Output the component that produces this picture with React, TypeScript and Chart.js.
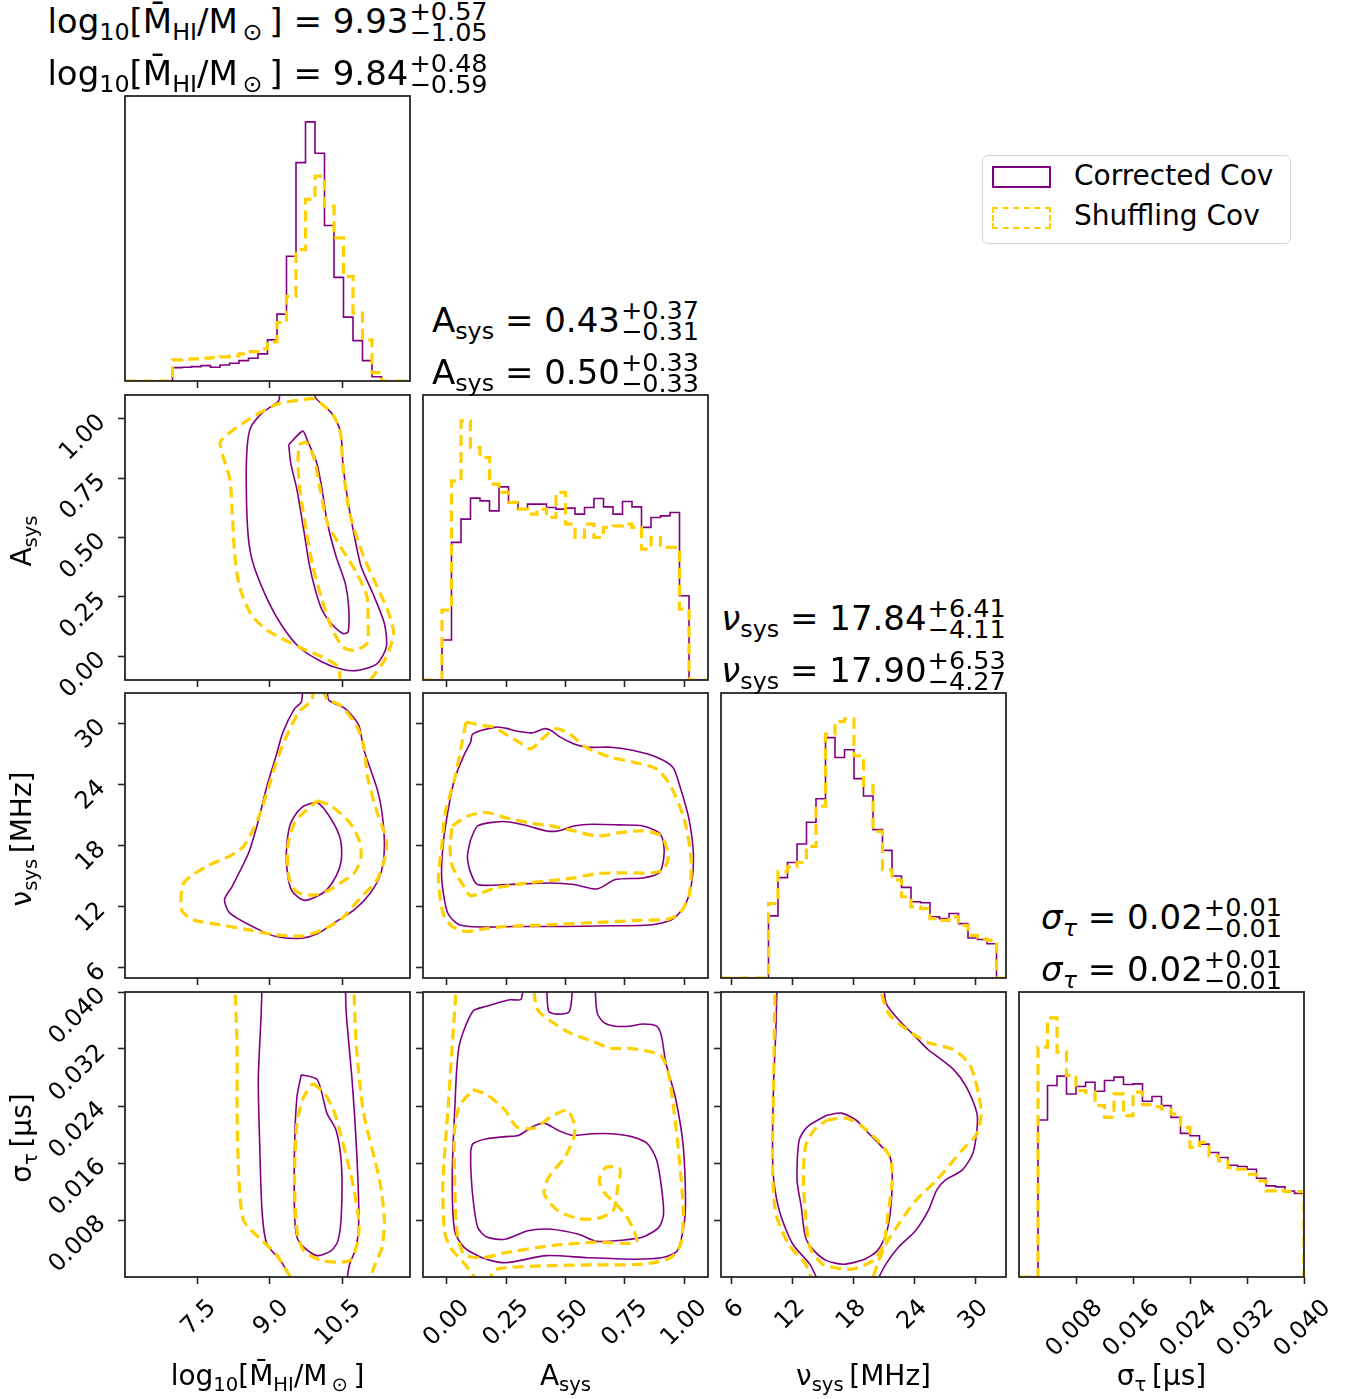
import React, { useEffect, useRef } from "react";
import { Chart, registerables } from "chart.js";

Chart.register(...registerables);

type Pt = [number, number];
type Line = Pt[];

// ---------- axis limits ----------
const LOGM_RANGE: [number, number] = [6.0, 11.9];
const ASYS_RANGE: [number, number] = [-0.1, 1.1];
const NUSYS_RANGE: [number, number] = [5.0, 33.0];
const SIGMA_RANGE: [number, number] = [0.0, 0.04];

// ---------- ticks ----------
const LOGM_TICKS = [7.5, 9.0, 10.5];
const LOGM_TICK_LABELS = ["7.5", "9.0", "10.5"];
const ASYS_TICKS = [0.0, 0.25, 0.5, 0.75, 1.0];
const ASYS_TICK_LABELS = ["0.00", "0.25", "0.50", "0.75", "1.00"];
const NUSYS_TICKS = [6, 12, 18, 24, 30];
const NUSYS_TICK_LABELS = ["6", "12", "18", "24", "30"];
const SIGMA_TICKS = [0.008, 0.016, 0.024, 0.032, 0.04];
const SIGMA_TICK_LABELS = ["0.008", "0.016", "0.024", "0.032", "0.040"];

// ---------- marginal histograms (30 bins over each axis range) ----------
const LOGM_HIST_CORRECTED = [0, 0, 0, 0, 0, 13.3, 13.7, 14.3, 15.3, 13.7, 16, 17.7, 20.3, 22.7, 27, 41, 66.7, 124.3, 217.7, 258.3, 227, 155, 103.3, 63.7, 40.3, 20.3, 4.3, 0, 0, 0];
const LOGM_HIST_SHUFFLING = [0, 0, 0, 0, 0, 21, 21.7, 22, 22.7, 23.3, 24, 25, 27, 29.3, 32, 39, 58.3, 84.3, 131, 181, 204.3, 174.3, 142.7, 104.3, 67.7, 41, 8.3, 0, 0, 0];
const ASYS_HIST_CORRECTED = [0, 0, 40, 137.7, 161, 182, 179.3, 169.3, 193.3, 177.7, 171, 176, 176, 172.7, 171, 172, 166, 172.7, 181.7, 173.3, 166, 178.7, 173.3, 152.7, 162.7, 164.3, 167.7, 84.3, 0, 0];
const ASYS_HIST_SHUFFLING = [0, 0, 70, 199.3, 259.3, 232.7, 222.7, 196, 187.7, 177.7, 171, 166, 171, 162.7, 187.7, 156, 142.7, 156, 142.7, 152.7, 154.3, 156, 152.7, 131, 142.7, 132.7, 132.7, 71, 0, 0];
const NUSYS_HIST_CORRECTED = [0, 0, 0, 0, 0, 61.7, 99.7, 114.7, 133, 154.7, 178, 238.7, 219, 226.7, 198, 180.7, 147.3, 126.7, 101.3, 90, 75.7, 74.7, 60.7, 59, 64, 54, 39.7, 38.3, 34, 0];
const NUSYS_HIST_SHUFFLING = [0, 0, 0, 0, 0, 74, 105.7, 110.7, 114.7, 130.7, 170.7, 242.3, 254.7, 257.3, 220.7, 191.3, 145.7, 107.3, 97.3, 80.7, 70.7, 69, 59, 57.3, 60.7, 52.3, 42.3, 39, 37.3, 0];
const SIGMA_HIST_CORRECTED = [0, 0, 156.3, 190.7, 200, 182.3, 189.7, 194, 185, 195.7, 199, 191.7, 192.3, 175, 179.7, 170.7, 159, 143, 140.7, 132.3, 124, 119, 111.3, 110, 107.3, 98.3, 90.7, 89.7, 85.7, 83.3];
const SIGMA_HIST_SHUFFLING = [0, 0, 229, 258, 224, 200.7, 185.7, 184, 170.7, 159, 182.3, 160.7, 184, 171.7, 169.7, 167.3, 162.3, 149, 129, 134, 120.7, 115.7, 109, 107.3, 102.3, 95.7, 85.7, 86.3, 85, 85];

// ---------- 68% / 95% credible contours ----------
const LOGM_ASYS_CORRECTED: Line[] = [
  [[9.20, 1.12], [9.18, 1.075], [8.84, 1.025], [8.60, 0.962], [8.53, 0.884], [8.51, 0.744], [8.54, 0.532], [8.63, 0.406], [8.89, 0.265], [9.22, 0.138], [9.60, 0.039], [10.08, -0.024], [10.51, -0.056], [10.84, -0.059], [11.22, -0.031], [11.41, 0.039], [11.37, 0.138], [11.13, 0.265], [10.89, 0.377], [10.75, 0.504], [10.60, 0.673], [10.51, 0.814], [10.46, 0.948], [10.27, 1.025], [9.94, 1.089], [9.94, 1.12]],
  [[9.39, 0.891], [9.68, 0.948], [9.78, 0.906], [9.97, 0.814], [10.08, 0.701], [10.19, 0.561], [10.37, 0.42], [10.56, 0.307], [10.63, 0.208], [10.62, 0.103], [10.51, 0.096], [10.27, 0.138], [10.08, 0.194], [9.94, 0.279], [9.81, 0.392], [9.70, 0.532], [9.56, 0.701], [9.43, 0.814], [9.39, 0.891]],
];
const LOGM_ASYS_SHUFFLING: Line[] = [
  [[10.46, -0.11], [10.41, -0.045], [10.08, -0.003], [9.60, 0.039], [8.94, 0.11], [8.60, 0.18], [8.37, 0.293], [8.27, 0.434], [8.22, 0.603], [8.17, 0.744], [8.03, 0.842], [7.98, 0.906], [8.56, 0.997], [9.13, 1.06], [9.60, 1.078], [9.94, 1.082], [10.32, 1.011], [10.46, 0.941], [10.51, 0.8], [10.65, 0.603], [10.94, 0.42], [11.22, 0.293], [11.46, 0.18], [11.56, 0.096], [11.41, -0.003], [11.18, -0.073], [11.03, -0.11]],
  [[9.60, 0.891], [9.75, 0.901], [9.91, 0.835], [10.03, 0.715], [10.19, 0.561], [10.46, 0.462], [10.80, 0.349], [11.01, 0.251], [11.03, 0.152], [11.01, 0.054], [10.75, 0.025], [10.51, 0.039], [10.27, 0.124], [10.08, 0.237], [9.89, 0.377], [9.75, 0.532], [9.62, 0.701], [9.58, 0.814], [9.60, 0.891]],
];

const LOGM_NUSYS_CORRECTED: Line[] = [
  [[9.68, 33.5], [9.65, 32.12], [9.51, 31.46], [9.27, 29.16], [9.13, 26.85], [8.94, 23.89], [8.75, 20.27], [8.56, 17.3], [8.22, 14.01], [8.06, 12.7], [8.17, 11.38], [8.75, 9.8], [9.13, 9.07], [9.65, 8.91], [9.98, 9.34], [10.32, 10.39], [10.75, 11.71], [11.08, 13.35], [11.30, 15.33], [11.37, 17.96], [11.32, 21.26], [11.22, 23.56], [10.94, 27.51], [10.84, 29.82], [10.56, 31.46], [10.22, 32.29], [10.19, 33.5]],
  [[9.70, 21.91], [9.98, 22.24], [10.27, 20.6], [10.46, 18.62], [10.48, 16.65], [10.37, 15.0], [10.18, 13.68], [9.98, 13.03], [9.70, 12.63], [9.46, 13.52], [9.37, 15.0], [9.34, 17.3], [9.41, 19.94], [9.56, 21.26], [9.70, 21.91]],
];
const LOGM_NUSYS_SHUFFLING: Line[] = [
  [[9.89, 33.5], [9.87, 32.29], [9.60, 31.13], [9.32, 28.5], [9.13, 26.2], [8.94, 23.23], [8.75, 20.6], [8.46, 17.96], [8.17, 16.98], [7.70, 15.99], [7.22, 14.34], [7.17, 11.71], [7.41, 10.72], [7.98, 10.23], [8.56, 9.73], [9.13, 9.24], [9.70, 9.14], [10.08, 9.73], [10.46, 10.72], [10.84, 12.7], [11.22, 14.67], [11.39, 16.98], [11.41, 18.62], [11.22, 21.26], [11.03, 24.55], [10.94, 27.84], [10.79, 29.82], [10.46, 31.79], [10.19, 32.38], [10.08, 33.5]],
  [[9.98, 22.41], [10.27, 21.91], [10.65, 20.27], [10.84, 18.62], [10.89, 16.98], [10.75, 15.33], [10.46, 14.34], [10.18, 13.52], [9.98, 13.19], [9.70, 13.19], [9.51, 13.68], [9.39, 15.0], [9.37, 17.96], [9.51, 20.27], [9.70, 21.26], [9.98, 22.41]],
];

const ASYS_NUSYS_CORRECTED: Line[] = [
  [[0.101, 28.17], [0.11, 28.99], [0.207, 29.65], [0.246, 29.55], [0.304, 29.22], [0.362, 29.09], [0.41, 29.49], [0.439, 29.32], [0.478, 28.66], [0.536, 28.0], [0.594, 27.67], [0.691, 27.67], [0.787, 27.35], [0.884, 26.69], [0.952, 25.7], [0.981, 23.89], [1.02, 20.6], [1.039, 16.97], [1.029, 14.01], [1.0, 12.04], [0.952, 10.79], [0.865, 10.23], [0.691, 10.13], [0.478, 10.06], [0.284, 10.06], [0.149, 10.0], [0.052, 10.23], [0.004, 11.38], [-0.021, 14.67], [-0.016, 17.96], [0.004, 21.26], [0.033, 24.55], [0.072, 26.85], [0.101, 28.17]],
  [[0.101, 18.62], [0.13, 19.94], [0.207, 20.33], [0.265, 20.33], [0.342, 19.94], [0.42, 19.45], [0.468, 19.45], [0.536, 19.94], [0.613, 20.11], [0.729, 20.04], [0.826, 19.94], [0.894, 19.28], [0.913, 18.29], [0.913, 16.65], [0.894, 15.33], [0.826, 14.83], [0.71, 14.67], [0.633, 13.75], [0.536, 14.18], [0.439, 14.34], [0.246, 14.18], [0.13, 14.18], [0.101, 15.33], [0.087, 16.97], [0.101, 18.62]],
];
const ASYS_NUSYS_SHUFFLING: Line[] = [
  [[0.081, 30.15], [0.149, 29.82], [0.197, 29.65], [0.246, 28.99], [0.304, 28.17], [0.352, 27.51], [0.41, 28.66], [0.458, 29.49], [0.517, 28.99], [0.575, 27.84], [0.613, 27.35], [0.691, 26.69], [0.787, 26.19], [0.884, 25.54], [0.942, 23.89], [1.0, 20.6], [1.029, 16.65], [1.02, 13.03], [0.981, 11.38], [0.933, 10.79], [0.807, 10.66], [0.633, 10.46], [0.439, 10.23], [0.246, 10.06], [0.149, 9.8], [0.081, 9.57], [0.023, 10.06], [-0.016, 11.38], [-0.035, 14.67], [-0.021, 17.96], [-0.006, 21.26], [0.033, 24.55], [0.062, 27.84], [0.081, 30.15]],
  [[0.023, 19.94], [0.091, 20.93], [0.168, 21.26], [0.246, 20.76], [0.342, 20.27], [0.439, 19.94], [0.536, 19.45], [0.633, 18.95], [0.729, 19.28], [0.826, 19.45], [0.904, 18.95], [0.933, 16.97], [0.913, 15.66], [0.865, 15.33], [0.749, 15.33], [0.633, 15.26], [0.536, 14.83], [0.342, 14.34], [0.207, 13.85], [0.101, 13.09], [0.072, 14.01], [0.023, 15.99], [0.014, 17.96], [0.023, 19.94]],
];

const LOGM_SIGMA_CORRECTED: Line[] = [
  [[8.84, 0.042], [8.82, 0.0371], [8.76, 0.0277], [8.79, 0.0183], [8.84, 0.0089], [8.94, 0.0046], [9.22, 0.0023], [9.51, -0.001]],
  [[10.56, 0.042], [10.58, 0.0371], [10.70, 0.0277], [10.79, 0.0183], [10.84, 0.0089], [10.79, 0.0042], [10.65, 0.0018], [10.58, -0.001]],
  [[9.65, 0.0284], [9.98, 0.0277], [10.18, 0.023], [10.37, 0.0206], [10.48, 0.0159], [10.48, 0.0089], [10.41, 0.0051], [10.27, 0.0037], [9.98, 0.003], [9.70, 0.0042], [9.56, 0.0056], [9.51, 0.0089], [9.51, 0.0183], [9.56, 0.0253], [9.65, 0.0284]],
];
const LOGM_SIGMA_SHUFFLING: Line[] = [
  [[8.27, 0.042], [8.32, 0.0324], [8.32, 0.023], [8.36, 0.0136], [8.46, 0.0079], [8.84, 0.0051], [9.13, 0.0032], [9.51, -0.001]],
  [[10.73, 0.042], [10.79, 0.0324], [10.94, 0.023], [11.27, 0.0136], [11.37, 0.0079], [11.32, 0.0042], [11.18, 0.0018], [11.03, -0.001]],
  [[9.89, 0.0272], [10.13, 0.0258], [10.32, 0.0234], [10.46, 0.0201], [10.70, 0.0136], [10.84, 0.0079], [10.82, 0.0051], [10.65, 0.0023], [10.08, 0.0023], [9.70, 0.0037], [9.56, 0.0065], [9.51, 0.0136], [9.56, 0.0216], [9.70, 0.0253], [9.89, 0.0272]],
];

const ASYS_SIGMA_CORRECTED: Line[] = [
  [[0.323, 0.042], [0.313, 0.039], [0.265, 0.0389], [0.168, 0.038], [0.11, 0.0373], [0.052, 0.0324], [0.033, 0.023], [0.023, 0.0136], [0.033, 0.0065], [0.072, 0.0042], [0.149, 0.0027], [0.246, 0.002], [0.42, 0.003], [0.594, 0.0027], [0.787, 0.0025], [0.904, 0.0027], [0.971, 0.0037], [1.004, 0.0089], [0.996, 0.0183], [0.962, 0.0253], [0.923, 0.03], [0.904, 0.0338], [0.884, 0.0352], [0.826, 0.0355], [0.768, 0.0352], [0.71, 0.0352], [0.662, 0.0357], [0.633, 0.0371], [0.623, 0.042]],
  [[0.42, 0.042], [0.429, 0.0373], [0.468, 0.0369], [0.517, 0.0373], [0.532, 0.042]],
  [[0.101, 0.0178], [0.11, 0.0187], [0.168, 0.0194], [0.246, 0.0197], [0.304, 0.0199], [0.362, 0.0211], [0.41, 0.0216], [0.468, 0.0206], [0.526, 0.0199], [0.613, 0.0201], [0.691, 0.0201], [0.778, 0.0197], [0.845, 0.0187], [0.884, 0.0164], [0.904, 0.0126], [0.913, 0.0089], [0.894, 0.007], [0.826, 0.0056], [0.749, 0.0052], [0.633, 0.005], [0.555, 0.006], [0.439, 0.0067], [0.342, 0.0065], [0.246, 0.0053], [0.168, 0.0056], [0.13, 0.007], [0.11, 0.0112], [0.101, 0.0154], [0.101, 0.0178]],
];
const ASYS_SIGMA_SHUFFLING: Line[] = [
  [[0.043, 0.042], [0.023, 0.0324], [0.004, 0.023], [-0.016, 0.0136], [-0.01, 0.0065], [0.014, 0.0042], [0.081, 0.0016], [0.139, -0.001]],
  [[0.178, -0.001], [0.197, 0.0009], [0.246, 0.0013], [0.439, 0.0016], [0.633, 0.0017], [0.826, 0.0018], [0.942, 0.0027], [0.985, 0.0046], [0.996, 0.0089], [0.981, 0.0159], [0.958, 0.023], [0.933, 0.0286], [0.904, 0.031], [0.845, 0.0317], [0.768, 0.0321], [0.691, 0.0321], [0.613, 0.0331], [0.517, 0.0343], [0.439, 0.0359], [0.381, 0.0376], [0.362, 0.042]],
  [[0.11, 0.0263], [0.168, 0.0256], [0.246, 0.0234], [0.294, 0.0211], [0.371, 0.0209], [0.439, 0.0225], [0.507, 0.0234], [0.536, 0.0216], [0.536, 0.0197], [0.497, 0.0168], [0.429, 0.014], [0.41, 0.0117], [0.468, 0.0093], [0.555, 0.0082], [0.633, 0.0082], [0.7, 0.0093], [0.72, 0.0126], [0.729, 0.0152], [0.671, 0.0154], [0.642, 0.0136], [0.662, 0.0119], [0.72, 0.01], [0.768, 0.0079], [0.797, 0.0049], [0.633, 0.0049], [0.439, 0.0044], [0.246, 0.0034], [0.149, 0.0027], [0.072, 0.0032], [0.043, 0.0065], [0.033, 0.0136], [0.033, 0.0206], [0.052, 0.0239], [0.11, 0.0263]],
];

const NUSYS_SIGMA_CORRECTED: Line[] = [
  [[10.52, 0.042], [10.39, 0.0347], [10.18, 0.0277], [10.06, 0.0183], [10.18, 0.0136], [10.81, 0.0089], [12.06, 0.0046], [13.72, 0.0018], [14.68, -0.001]],
  [[20.99, 0.042], [21.2, 0.0385], [22.45, 0.0361], [23.7, 0.0343], [25.36, 0.0319], [26.19, 0.031], [27.86, 0.0291], [29.1, 0.0267], [30.14, 0.023], [30.14, 0.0206], [29.73, 0.0173], [28.69, 0.015], [27.03, 0.0136], [26.19, 0.0122], [25.36, 0.0093], [24.11, 0.0065], [22.45, 0.0042], [21.2, 0.0018], [20.16, -0.001]],
  [[15.38, 0.0227], [16.84, 0.023], [18.29, 0.022], [19.54, 0.0201], [20.79, 0.0183], [21.62, 0.0168], [21.83, 0.0136], [21.62, 0.0089], [21.2, 0.006], [20.37, 0.0037], [19.12, 0.0025], [17.05, 0.0018], [15.38, 0.0023], [14.13, 0.0037], [13.3, 0.0056], [12.89, 0.0098], [12.47, 0.0136], [12.68, 0.0192], [13.51, 0.0211], [15.38, 0.0227]],
];
const NUSYS_SIGMA_SHUFFLING: Line[] = [
  [[10.31, 0.042], [10.18, 0.0277], [10.06, 0.0159], [10.39, 0.0089], [11.64, 0.0046], [13.3, 0.0018], [14.13, -0.001]],
  [[20.37, 0.042], [21.41, 0.0371], [23.28, 0.0347], [25.36, 0.0329], [27.86, 0.0319], [29.52, 0.0296], [30.56, 0.0234], [30.14, 0.0201], [28.69, 0.0178], [26.19, 0.0136], [24.11, 0.0107], [22.45, 0.0074], [21.2, 0.0046], [20.37, 0.0018], [19.75, -0.001]],
  [[15.38, 0.022], [17.25, 0.0223], [18.71, 0.0213], [20.37, 0.0192], [21.62, 0.0168], [21.83, 0.0136], [21.41, 0.0089], [20.99, 0.0046], [19.95, 0.0023], [17.88, 0.0011], [16.21, 0.0013], [14.97, 0.0018], [13.72, 0.0042], [13.3, 0.0089], [13.1, 0.0136], [13.3, 0.0183], [14.13, 0.0206], [15.38, 0.022]],
];

// ---------- posterior summaries: [median, +err, -err] ----------
const LOGM_SUMMARY = [[9.93, 0.57, 1.05], [9.84, 0.48, 0.59]];
const ASYS_SUMMARY = [[0.43, 0.37, 0.31], [0.5, 0.33, 0.33]];
const NUSYS_SUMMARY = [[17.84, 6.41, 4.11], [17.9, 6.53, 4.27]];
const SIGMA_SUMMARY = [[0.02, 0.01, 0.01], [0.02, 0.01, 0.01]];

const SERIES_NAMES = ["Corrected Cov", "Shuffling Cov"];

// ---------- styling ----------
const FONT = "'DejaVu Sans', 'Noto Sans', sans-serif";
const PURPLE = "#800080";
const GOLD = "#ffd000";
const FRAME = "#262626";
const PANEL = 285;
const COL_X = [125, 423, 721, 1019];
const ROW_Y = [96, 395, 693, 992];

type AxisSpec = { range: [number, number]; ticks: number[]; labels: string[]; shift: number };
const AX_LOGM: AxisSpec = { range: LOGM_RANGE, ticks: LOGM_TICKS, labels: LOGM_TICK_LABELS, shift: 15 };
const AX_ASYS: AxisSpec = { range: ASYS_RANGE, ticks: ASYS_TICKS, labels: ASYS_TICK_LABELS, shift: 19 };
const AX_NUSYS: AxisSpec = { range: NUSYS_RANGE, ticks: NUSYS_TICKS, labels: NUSYS_TICK_LABELS, shift: 9 };
const AX_SIGMA: AxisSpec = { range: SIGMA_RANGE, ticks: SIGMA_TICKS, labels: SIGMA_TICK_LABELS, shift: 23 };

// Draws the full box around each panel's plotting area.
const framePlugin = {
  id: "frame",
  afterDatasetsDraw(chart: any) {
    const { ctx, chartArea: a } = chart;
    ctx.save();
    ctx.strokeStyle = FRAME;
    ctx.lineWidth = 1.8;
    ctx.strokeRect(a.left, a.top, a.right - a.left, a.bottom - a.top);
    ctx.restore();
  },
};

// Outline of a step histogram: one point at the left edge of every bin.
function histPoints(counts: number[], range: [number, number]) {
  const n = counts.length;
  const w = (range[1] - range[0]) / n;
  const pts = [{ x: range[0], y: 0 }];
  counts.forEach((c, i) => pts.push({ x: range[0] + i * w, y: c }));
  pts.push({ x: range[1], y: counts[n - 1] });
  pts.push({ x: range[1], y: 0 });
  return pts;
}

function lineStyle(shuffled: boolean) {
  return shuffled
    ? { borderColor: GOLD, borderWidth: 3.2, borderDash: [11, 6] }
    : { borderColor: PURPLE, borderWidth: 1.6, borderDash: [] };
}

function histDatasets(corrected: number[], shuffled: number[], range: [number, number]) {
  return [
    { data: histPoints(shuffled, range), ...lineStyle(true), showLine: true, stepped: "before", pointRadius: 0, fill: false },
    { data: histPoints(corrected, range), ...lineStyle(false), showLine: true, stepped: "before", pointRadius: 0, fill: false },
  ];
}

function contourDatasets(corrected: Line[], shuffled: Line[]) {
  const mk = (l: Line, s: boolean) => ({
    data: l.map(([x, y]) => ({ x, y })),
    ...lineStyle(s),
    showLine: true,
    pointRadius: 0,
    tension: 0.25,
    fill: false,
  });
  return [...shuffled.map((l) => mk(l, true)), ...corrected.map((l) => mk(l, false))];
}

type PanelSpec = {
  row: number;
  col: number;
  x: AxisSpec;
  y: AxisSpec | null;
  datasets: any[];
  yMax?: number;
};

function ChartPanel({ spec }: { spec: PanelSpec }) {
  const ref = useRef<HTMLCanvasElement>(null);
  const { row, col } = spec;
  const padL = col === 0 ? 125 : 16;
  const padR = col === 3 ? 50 : 8;
  const padT = 10;
  const padB = row === 3 ? 122 : col === 0 ? 48 : 16;
  const W = padL + PANEL + padR;
  const H = padT + PANEL + padB;

  useEffect(() => {
    const tickFont = { family: FONT, size: 24 };
    const grid = { display: true, drawOnChartArea: false, drawTicks: true, tickLength: 7, tickWidth: 1.6, tickColor: FRAME };
    const xs = spec.x;
    const ys = spec.y;
    const xScale: any = {
      type: "linear",
      position: "bottom",
      min: xs.range[0],
      max: xs.range[1],
      afterBuildTicks: (s: any) => {
        s.ticks = xs.ticks.map((v) => ({ value: v }));
      },
      afterFit: (s: any) => {
        s.height = padB;
        s.paddingLeft = 0;
        s.paddingRight = 0;
        s.paddingTop = 0;
        s.paddingBottom = 0;
      },
      ticks: {
        display: row === 3,
        autoSkip: false,
        minRotation: 45,
        maxRotation: 45,
        padding: 10,
        labelOffset: xs.shift,
        color: "#000",
        font: tickFont,
        callback: (_v: any, i: number) => xs.labels[i],
      },
      grid,
      border: { display: false },
    };
    const yScale: any = ys
      ? {
          type: "linear",
          position: "left",
          min: ys.range[0],
          max: ys.range[1],
          afterBuildTicks: (s: any) => {
            s.ticks = ys.ticks.map((v) => ({ value: v }));
          },
          afterFit: (s: any) => {
            s.width = padL;
            s.paddingLeft = 0;
            s.paddingRight = 0;
            s.paddingTop = 0;
            s.paddingBottom = 0;
          },
          ticks: {
            display: col === 0,
            autoSkip: false,
            minRotation: 45,
            maxRotation: 45,
            padding: 16,
            color: "#000",
            font: tickFont,
            callback: (_v: any, i: number) => ys.labels[i],
          },
          grid,
          border: { display: false },
        }
      : {
          type: "linear",
          position: "left",
          min: 0,
          max: spec.yMax,
          afterFit: (s: any) => {
            s.width = padL;
            s.paddingTop = 0;
            s.paddingBottom = 0;
          },
          ticks: { display: false },
          grid: { display: false },
          border: { display: false },
        };

    const chart = new Chart(ref.current as HTMLCanvasElement, {
      type: "scatter",
      data: { datasets: spec.datasets },
      options: {
        responsive: false,
        animation: false,
        devicePixelRatio: 1,
        events: [],
        layout: { autoPadding: false, padding: { left: 0, top: padT, right: padR, bottom: 0 } },
        plugins: { legend: { display: false }, tooltip: { enabled: false } },
        scales: { x: xScale, y: yScale },
      } as any,
      plugins: [framePlugin],
    });
    return () => chart.destroy();
  }, []);

  return (
    <canvas
      ref={ref}
      width={W}
      height={H}
      style={{ position: "absolute", left: COL_X[col] - padL, top: ROW_Y[row] - padT, width: W, height: H }}
    />
  );
}

const histMax = (a: number[], b: number[]) => 1.1 * Math.max(...a, ...b);

const PANELS: PanelSpec[] = [
  { row: 0, col: 0, x: AX_LOGM, y: null, datasets: histDatasets(LOGM_HIST_CORRECTED, LOGM_HIST_SHUFFLING, LOGM_RANGE), yMax: histMax(LOGM_HIST_CORRECTED, LOGM_HIST_SHUFFLING) },
  { row: 1, col: 0, x: AX_LOGM, y: AX_ASYS, datasets: contourDatasets(LOGM_ASYS_CORRECTED, LOGM_ASYS_SHUFFLING) },
  { row: 1, col: 1, x: AX_ASYS, y: null, datasets: histDatasets(ASYS_HIST_CORRECTED, ASYS_HIST_SHUFFLING, ASYS_RANGE), yMax: histMax(ASYS_HIST_CORRECTED, ASYS_HIST_SHUFFLING) },
  { row: 2, col: 0, x: AX_LOGM, y: AX_NUSYS, datasets: contourDatasets(LOGM_NUSYS_CORRECTED, LOGM_NUSYS_SHUFFLING) },
  { row: 2, col: 1, x: AX_ASYS, y: AX_NUSYS, datasets: contourDatasets(ASYS_NUSYS_CORRECTED, ASYS_NUSYS_SHUFFLING) },
  { row: 2, col: 2, x: AX_NUSYS, y: null, datasets: histDatasets(NUSYS_HIST_CORRECTED, NUSYS_HIST_SHUFFLING, NUSYS_RANGE), yMax: histMax(NUSYS_HIST_CORRECTED, NUSYS_HIST_SHUFFLING) },
  { row: 3, col: 0, x: AX_LOGM, y: AX_SIGMA, datasets: contourDatasets(LOGM_SIGMA_CORRECTED, LOGM_SIGMA_SHUFFLING) },
  { row: 3, col: 1, x: AX_ASYS, y: AX_SIGMA, datasets: contourDatasets(ASYS_SIGMA_CORRECTED, ASYS_SIGMA_SHUFFLING) },
  { row: 3, col: 2, x: AX_NUSYS, y: AX_SIGMA, datasets: contourDatasets(NUSYS_SIGMA_CORRECTED, NUSYS_SIGMA_SHUFFLING) },
  { row: 3, col: 3, x: AX_SIGMA, y: null, datasets: histDatasets(SIGMA_HIST_CORRECTED, SIGMA_HIST_SHUFFLING, SIGMA_RANGE), yMax: histMax(SIGMA_HIST_CORRECTED, SIGMA_HIST_SHUFFLING) },
];

// ---------- text helpers ----------
const Sub = ({ children, italic }: { children: React.ReactNode; italic?: boolean }) => (
  <span style={{ fontSize: "0.7em", position: "relative", top: "0.3em", fontStyle: italic ? "italic" : "normal" }}>{children}</span>
);

const LOGM_SYMBOL = (
  <>
    log<Sub>10</Sub>[M{"\u0304"}<Sub>HI</Sub>/M<Sub>{"\u2009\u2299"}</Sub>{"\u2009"}]
  </>
);
const ASYS_SYMBOL = (
  <>
    A<Sub>sys</Sub>
  </>
);
const NUSYS_TITLE_SYMBOL = (
  <>
    <span style={{ fontStyle: "italic" }}>ν</span>
    <Sub>sys</Sub>
  </>
);
const SIGMA_TITLE_SYMBOL = (
  <>
    <span style={{ fontStyle: "italic" }}>σ</span>
    <Sub italic>τ</Sub>
  </>
);
const NUSYS_AXIS_LABEL = (
  <>
    ν<Sub>sys</Sub>{"\u2009"}[MHz]
  </>
);
const SIGMA_AXIS_LABEL = (
  <>
    σ<Sub>τ</Sub>{"\u2009"}[μs]
  </>
);

const fmt = (v: number) => v.toFixed(2);

function TitleLine({ cx, baseline, symbol, stats }: { cx: number; baseline: number; symbol: React.ReactNode; stats: number[] }) {
  const fs = 34;
  return (
    <div
      style={{
        position: "absolute",
        left: cx,
        top: baseline - 0.846 * fs,
        transform: "translateX(-50%)",
        display: "flex",
        alignItems: "baseline",
        whiteSpace: "nowrap",
        fontSize: fs,
        lineHeight: `${fs}px`,
      }}
    >
      <span>
        {symbol}
        {" = "}
        {fmt(stats[0])}
      </span>
      <span style={{ display: "inline-flex", flexDirection: "column", fontSize: 25.5, lineHeight: "21px", position: "relative", top: -13, marginLeft: 1 }}>
        <span>+{fmt(stats[1])}</span>
        <span>{"\u2212"}{fmt(stats[2])}</span>
      </span>
    </div>
  );
}

function DiagTitle({ col, symbol, stats }: { col: number; symbol: React.ReactNode; stats: number[][] }) {
  const cx = COL_X[col] + PANEL / 2;
  const top = ROW_Y[col];
  return (
    <>
      <TitleLine cx={cx} baseline={top - 63} symbol={symbol} stats={stats[0]} />
      <TitleLine cx={cx} baseline={top - 11} symbol={symbol} stats={stats[1]} />
    </>
  );
}

function XLabel({ col, children }: { col: number; children: React.ReactNode }) {
  const fs = 28;
  return (
    <div
      style={{
        position: "absolute",
        left: COL_X[col] + PANEL / 2,
        top: 1386 - 0.846 * fs,
        transform: "translateX(-50%)",
        fontSize: fs,
        lineHeight: `${fs}px`,
        whiteSpace: "nowrap",
      }}
    >
      {children}
    </div>
  );
}

function YLabel({ row, children }: { row: number; children: React.ReactNode }) {
  const fs = 28;
  return (
    <div
      style={{
        position: "absolute",
        left: 23,
        top: ROW_Y[row] + PANEL / 2 + 3,
        transform: "translate(-50%, -50%) rotate(-90deg)",
        fontSize: fs,
        lineHeight: `${fs}px`,
        whiteSpace: "nowrap",
      }}
    >
      {children}
    </div>
  );
}

function Legend() {
  const fs = 28;
  return (
    <div
      style={{
        position: "absolute",
        left: 982,
        top: 155,
        width: 309,
        height: 89,
        boxSizing: "border-box",
        border: "1.5px solid #d6d6d6",
        borderRadius: 6,
        background: "#fff",
      }}
    >
      <div style={{ position: "absolute", left: 8.5, top: 9.5, width: 59, height: 22, boxSizing: "border-box", border: `2px solid ${PURPLE}` }} />
      <div style={{ position: "absolute", left: 8.5, top: 50.5, width: 59, height: 22, boxSizing: "border-box", border: `2px dashed ${GOLD}` }} />
      <div style={{ position: "absolute", left: 91, top: 6, fontSize: fs, lineHeight: `${fs}px`, whiteSpace: "nowrap" }}>{SERIES_NAMES[0]}</div>
      <div style={{ position: "absolute", left: 91, top: 46, fontSize: fs, lineHeight: `${fs}px`, whiteSpace: "nowrap" }}>{SERIES_NAMES[1]}</div>
    </div>
  );
}

export default function App() {
  return (
    <div
      style={{
        position: "absolute",
        left: 0,
        top: 0,
        width: 1364,
        height: 1399,
        overflow: "hidden",
        background: "#fff",
        fontFamily: FONT,
        color: "#000",
      }}
    >
      {PANELS.map((p) => (
        <ChartPanel key={`${p.row}-${p.col}`} spec={p} />
      ))}
      <DiagTitle col={0} symbol={LOGM_SYMBOL} stats={LOGM_SUMMARY} />
      <DiagTitle col={1} symbol={ASYS_SYMBOL} stats={ASYS_SUMMARY} />
      <DiagTitle col={2} symbol={NUSYS_TITLE_SYMBOL} stats={NUSYS_SUMMARY} />
      <DiagTitle col={3} symbol={SIGMA_TITLE_SYMBOL} stats={SIGMA_SUMMARY} />
      <XLabel col={0}>{LOGM_SYMBOL}</XLabel>
      <XLabel col={1}>{ASYS_SYMBOL}</XLabel>
      <XLabel col={2}>{NUSYS_AXIS_LABEL}</XLabel>
      <XLabel col={3}>{SIGMA_AXIS_LABEL}</XLabel>
      <YLabel row={1}>{ASYS_SYMBOL}</YLabel>
      <YLabel row={2}>{NUSYS_AXIS_LABEL}</YLabel>
      <YLabel row={3}>{SIGMA_AXIS_LABEL}</YLabel>
      <Legend />
    </div>
  );
}
